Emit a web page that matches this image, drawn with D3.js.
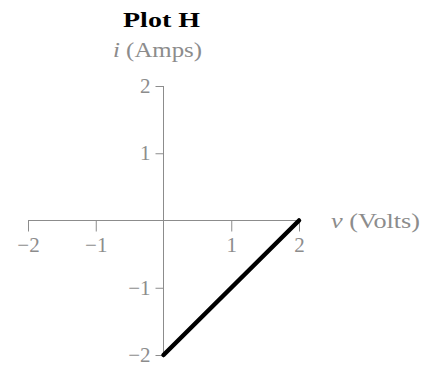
<!DOCTYPE html>
<html lang="en">
<head>
<meta charset="UTF-8">
<title>Plot H</title>
<script src="https://d3js.org/d3.v7.min.js"></script>
<style>
    body { margin: 0; padding: 0; background: #fff; }
    svg { display: block; font-family: "Liberation Serif", "DejaVu Serif", serif; }
</style>
</head>
<body>
<svg id="chart" width="425" height="366"></svg>
<script>
    // data
    const xTicks = [-2, -1, 0, 1, 2];
    const yTicks = [-2, -1, 0, 1, 2];
    const lineV = [0, 2];
    const lineI = [-2, 0];

    const svg = d3.select("#chart");
    const gray = "#8c8c8c";

    const x = d3.scaleLinear().domain([-2, 2]).range([28, 299]);
    const y = d3.scaleLinear().domain([-2, 2]).range([355, 86]);

    const fmt = d => d < 0 ? "\u2212" + Math.abs(d) : String(d);

    // x axis through origin
    const xAxis = svg.append("g")
        .attr("transform", `translate(0,${y(0)})`)
        .call(d3.axisBottom(x).tickValues(xTicks.filter(d => d !== 0))
            .tickFormat(fmt).tickSize(11).tickSizeOuter(0).tickPadding(6));
    xAxis.select(".domain").attr("stroke", gray).attr("d", `M${x(-2)},0H${x(2)}`);
    xAxis.selectAll(".tick line").attr("stroke", gray);
    xAxis.selectAll(".tick text").attr("fill", gray).attr("font-size", 21)
        .attr("font-family", "Liberation Serif, serif");

    // y axis through origin
    const yAxis = svg.append("g")
        .attr("transform", `translate(${x(0)},0)`)
        .call(d3.axisLeft(y).tickValues(yTicks.filter(d => d !== 0))
            .tickFormat(fmt).tickSize(8).tickSizeOuter(0).tickPadding(5));
    yAxis.select(".domain").attr("stroke", gray).attr("d", `M0,${y(2)}V${y(-2)}`);
    yAxis.selectAll(".tick line").attr("stroke", gray);
    yAxis.selectAll(".tick text").attr("fill", gray).attr("font-size", 21)
        .attr("font-family", "Liberation Serif, serif");

    // the line
    const pts = lineV.map((v, k) => [v, lineI[k]]);
    svg.append("path")
        .datum(pts)
        .attr("fill", "none")
        .attr("stroke", "#000")
        .attr("stroke-width", 4.5)
        .attr("stroke-linecap", "round")
        .attr("d", d3.line().x(d => x(d[0])).y(d => y(d[1])));

    // title and axis labels
    svg.append("text")
        .attr("x", 123).attr("y", 27)
        .attr("font-size", 22).attr("font-weight", "bold")
        .attr("textLength", 77).attr("lengthAdjust", "spacingAndGlyphs")
        .text("Plot H");

    const yl = svg.append("text")
        .attr("x", 113).attr("y", 57)
        .attr("font-size", 21).attr("fill", gray)
        .attr("textLength", 89).attr("lengthAdjust", "spacingAndGlyphs");
    yl.append("tspan").attr("font-style", "italic").text("i");
    yl.append("tspan").text(" (Amps)");

    const xl = svg.append("text")
        .attr("x", 331).attr("y", y(0) + 7)
        .attr("font-size", 21).attr("fill", gray)
        .attr("textLength", 89).attr("lengthAdjust", "spacingAndGlyphs");
    xl.append("tspan").attr("font-style", "italic").text("v");
    xl.append("tspan").text(" (Volts)");
</script>
</body>
</html>
